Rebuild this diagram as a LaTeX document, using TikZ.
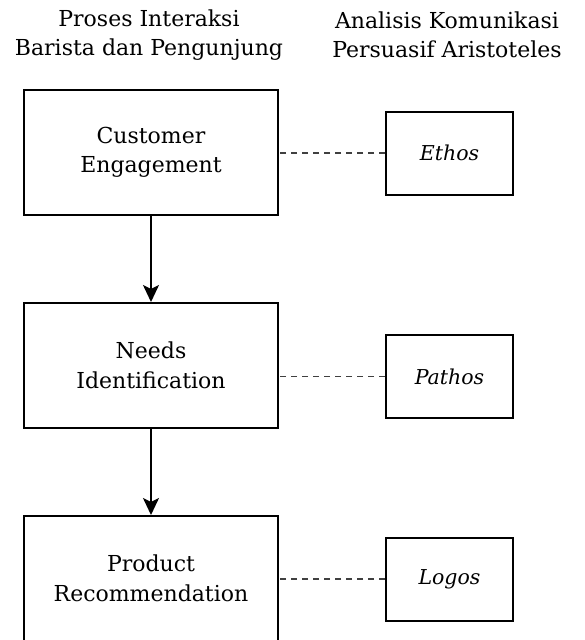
\documentclass[tikz,border=0pt]{standalone}
\usepackage{fontspec}
\setmainfont{DejaVu Serif}
\usetikzlibrary{arrows.meta}
\begin{document}
\begin{tikzpicture}[x=1pt,y=-1pt,
  txt/.style={font=\fontsize{22}{29.5}\selectfont, align=center, inner sep=0pt},
  itxt/.style={font=\fontsize{20.5}{24}\selectfont\itshape, inner sep=0pt},
  mainbox/.style={draw, line width=2pt, minimum width=254pt, minimum height=125pt, txt},
  sidebox/.style={draw, line width=2pt, minimum width=127pt, minimum height=83pt, itxt},
  flow/.style={line width=1.9pt, -{Stealth[length=17pt,width=16pt,inset=4pt]}},
  link/.style={line width=1.6pt, black!75, dash pattern=on 6pt off 5pt}]
\useasboundingbox (0,0) rectangle (585,640);
\node[txt] (h1) at (149,35) {Proses Interaksi\\Barista dan Pengunjung};
\node[txt] (h2) at (447,35) {Analisis Komunikasi\\Persuasif Aristoteles};
\node[mainbox] (b1) at (151,152.5) {Customer\\Engagement};
\node[mainbox] (b2) at (151,365.5) {Needs\\Identification};
\node[mainbox] (b3) at (151,578.5) {Product\\Recommendation};
\node[sidebox] (s1) at (449.5,153) {Ethos};
\node[sidebox] (s2) at (449.5,376.5) {Pathos};
\node[sidebox] (s3) at (449.5,579) {Logos};
\draw[flow] (b1) -- (b2);
\draw[flow] (b2) -- (b3);
\draw[link] (s1.west) -- (s1.west -| b1.east);
\draw[link] (s2.west) -- (s2.west -| b2.east);
\draw[link] (s3.west) -- (s3.west -| b3.east);
\end{tikzpicture}
\end{document}
